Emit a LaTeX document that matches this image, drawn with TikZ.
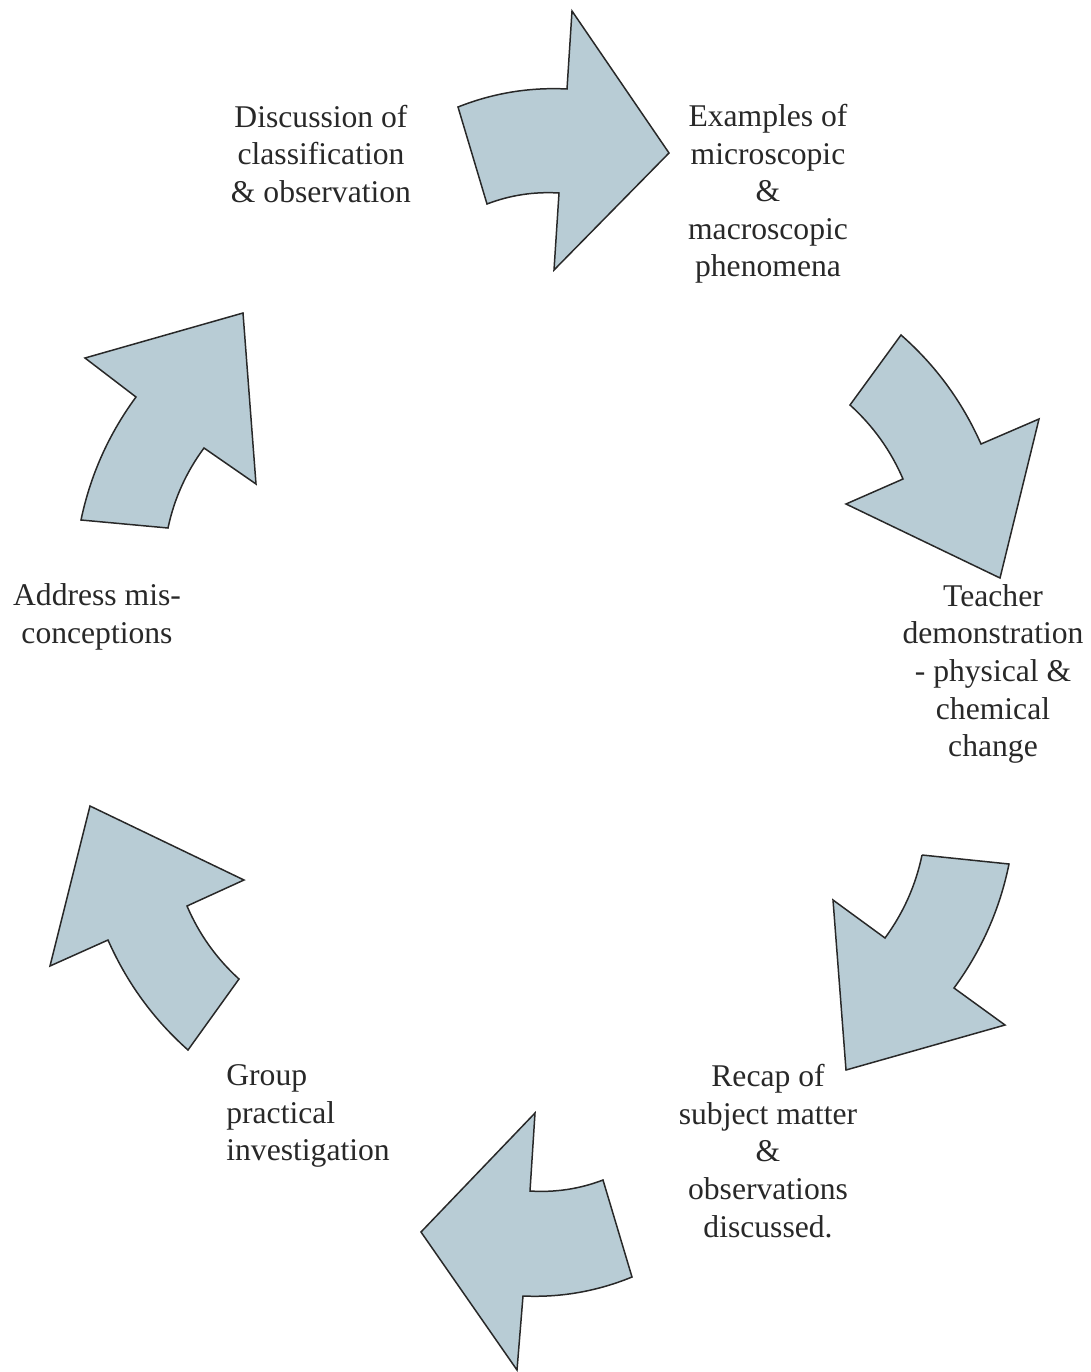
\documentclass[tikz,border=0pt]{standalone}
\usepackage{fontspec}
\setmainfont{Liberation Serif}
\usepackage{tikz}
\definecolor{arrowblue}{RGB}{184,204,213}
\definecolor{arrowline}{RGB}{40,40,40}
\definecolor{textgray}{RGB}{40,40,40}
\begin{document}
\begin{tikzpicture}[x=0.02cm,y=-0.02cm,
  bigarrow/.style={fill=arrowblue,draw=arrowline,line width=0.85pt,line join=miter},
  lbl/.style={inner sep=0pt,align=center,text=textgray,font=\fontsize{18}{21.4}\selectfont}]
\useasboundingbox (0,0) rectangle (1091,1372);
% block arrows, clockwise from the top
\filldraw[bigarrow] (458,107) .. controls (493,93.1) and (529.4,87.1) .. (567,89)--(572,11)--(669,153)--(554,270)--(559,193)
  .. controls (534.2,191.5) and (510.2,195.1) .. (487,204)--cycle;
\filldraw[bigarrow] (901,335) .. controls (935.7,365.4) and (962.3,401.8) .. (981,444)--(1039,419)--(1000,578)--(846,504)--(903,479)
  .. controls (890.7,450.5) and (873.1,425.9) .. (850,405)--cycle;
\filldraw[bigarrow] (922,855)--(1009,864) .. controls (999.8,909.3) and (981.4,950.7) .. (954,988)--(1005,1025)--(846,1070)--(833,900)--(885,938)
  .. controls (903.3,913) and (915.7,885.4) .. (922,855);
\filldraw[bigarrow] (535,1113)--(530,1191) .. controls (555.1,1192.6) and (579.5,1189) .. (603,1180)--(632,1277)
  .. controls (597.1,1291.3) and (560.7,1297.7) .. (523,1296)--(517,1370)--(421,1232)--cycle;
\filldraw[bigarrow] (90,806)--(244,880)--(187,906) .. controls (199,934.1) and (216.4,958.5) .. (239,979)--(188,1050)
  .. controls (153.3,1019.1) and (126.7,982.5) .. (108,940)--(50,966)--cycle;
\filldraw[bigarrow] (243,313)--(256,484)--(204,448) .. controls (186.2,472.1) and (174.2,498.7) .. (168,528)--(81,520)
  .. controls (90.4,475) and (108.8,434) .. (136,397)--(85,358)--cycle;
% labels
\node[lbl] (disc) at (321,154) {Discussion of\\classification\\\& observation};
\node[lbl] (examples) at (768,194) {Examples of\\microscopic\\\&\\macroscopic\\phenomena};
\node[lbl] (teacher) at (993,674) {Teacher\\demonstration\\- physical \&\\chemical\\change};
\node[lbl] (recap) at (768,1151) {Recap of\\subject matter\\\&\\observations\\discussed.};
\node[lbl,align=left,anchor=west] (group) at (226,1116) {Group\\practical\\investigation};
\node[lbl] (address) at (97,617) {Address mis-\\conceptions};
\end{tikzpicture}
\end{document}
